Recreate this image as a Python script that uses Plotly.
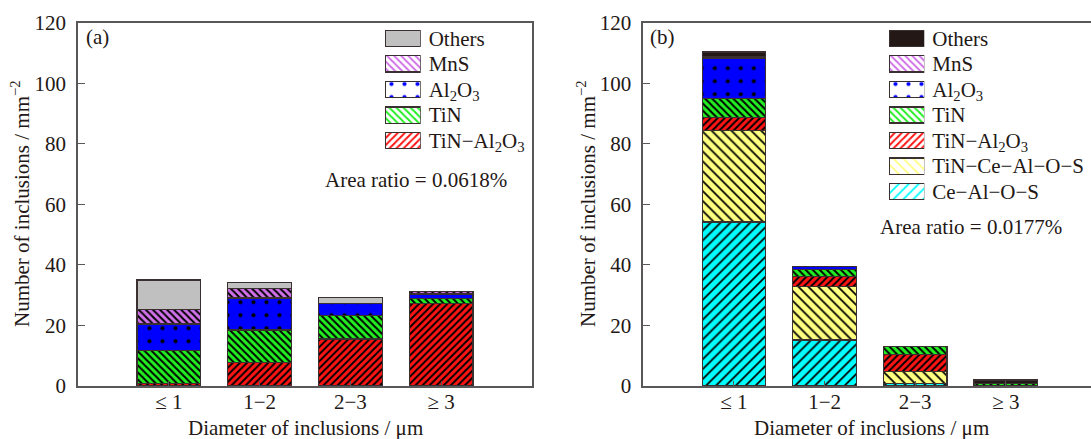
import plotly.graph_objects as go

# ---------------- data ----------------
categories = ["≤ 1", "1−2", "2−3", "≥ 3"]

# panel (a)
a_tin_al2o3 = [0.9, 7.8, 15.5, 27.3]
a_tin = [10.75, 10.7, 7.8, 1.7]
a_al2o3 = [8.85, 10.6, 4.0, 1.4]
a_mns = [4.8, 3.0, 0.0, 0.85]
a_others = [9.7, 2.0, 2.0, 0.0]

# panel (b)
b_ce_al_o_s = [54.2, 15.2, 0.9, 0.0]
b_tin_ce_al_o_s = [30.3, 17.6, 3.8, 0.0]
b_tin_al2o3 = [4.2, 3.3, 5.8, 0.0]
b_tin = [6.3, 2.4, 2.5, 0.9]
b_al2o3 = [13.2, 0.9, 0.0, 0.0]
b_mns = [0.5, 0.0, 0.0, 0.0]
b_others = [1.6, 0.0, 0.0, 1.1]

area_a = "Area ratio = 0.0618%"
area_b = "Area ratio = 0.0177%"

# ---------------- styles ----------------
FONT = "Liberation Serif, Times New Roman, serif"
TXT = "#231815"
AX = "#595757"
EDGE = "#3a3030"
FG = "#000000"

styles = {
    "Others_a": dict(color="#c0c0c0", shape="", size=8, sol=0.3),
    "Others_b": dict(color="#231815", shape="", size=8, sol=0.3),
    "MnS": dict(color="#d070e8", shape="\\", size=5, sol=0.4),
    "Al2O3": dict(color="#0000ff", shape=".", size=13, sol=0.08),
    "TiN": dict(color="#22ee22", shape="\\", size=5, sol=0.4),
    "TiN-Al2O3": dict(color="#ff1414", shape="/", size=5, sol=0.4),
    "TiN-Ce": dict(color="#ffff80", shape="\\", size=7, sol=0.25),
    "Ce": dict(color="#00ffff", shape="/", size=7, sol=0.25),
}

labels = {
    "Others_a": "Others", "Others_b": "Others", "MnS": "MnS",
    "Al2O3": "Al<sub>2</sub>O<sub>3</sub>", "TiN": "TiN",
    "TiN-Al2O3": "TiN−Al<sub>2</sub>O<sub>3</sub>",
    "TiN-Ce": "TiN−Ce−Al−O−S", "Ce": "Ce−Al−O−S",
}


def bar(key, vals, xa, ya):
    s = styles[key]
    return go.Bar(
        x=categories, y=vals, xaxis=xa, yaxis=ya, width=0.7,
        marker=dict(color=s["color"], line=dict(color=EDGE, width=1.3),
                    pattern=dict(shape=s["shape"], fgcolor=FG, bgcolor=s["color"],
                                 size=s["size"], solidity=s["sol"], fillmode="replace")),
        showlegend=False, hoverinfo="skip",
    )


fig = go.Figure()
for key, vals in [("TiN-Al2O3", a_tin_al2o3), ("TiN", a_tin), ("Al2O3", a_al2o3),
                  ("MnS", a_mns), ("Others_a", a_others)]:
    fig.add_trace(bar(key, vals, "x", "y"))
for key, vals in [("Ce", b_ce_al_o_s), ("TiN-Ce", b_tin_ce_al_o_s), ("TiN-Al2O3", b_tin_al2o3),
                  ("TiN", b_tin), ("Al2O3", b_al2o3), ("MnS", b_mns), ("Others_b", b_others)]:
    fig.add_trace(bar(key, vals, "x2", "y2"))

# custom legends (swatches drawn on hidden axes)
legend_a = ["Others_a", "MnS", "Al2O3", "TiN", "TiN-Al2O3"]
legend_b = ["Others_b", "MnS", "Al2O3", "TiN", "TiN-Al2O3", "TiN-Ce", "Ce"]


def legend_trace(keys, xa, ya):
    return go.Bar(
        orientation="h", y=[labels[k] for k in keys], x=[1] * len(keys),
        xaxis=xa, yaxis=ya, width=0.63,
        marker=dict(color=[styles[k]["color"] for k in keys],
                    line=dict(color=EDGE, width=1.3),
                    pattern=dict(shape=[styles[k]["shape"] for k in keys], fgcolor=FG,
                                 bgcolor=[styles[k]["color"] for k in keys],
                                 size=[styles[k]["size"] for k in keys],
                                 solidity=[styles[k]["sol"] for k in keys], fillmode="replace")),
        showlegend=False, hoverinfo="skip",
    )


fig.add_trace(legend_trace(legend_a, "x3", "y3"))
fig.add_trace(legend_trace(legend_b, "x4", "y4"))

W, H = 1091, 439
ydom = [(H - 386) / H, (H - 22.7) / H]
FS = 21
tickfont = dict(family=FONT, size=FS, color=TXT)

common_x = dict(type="category", showline=True, linecolor=AX, linewidth=1.5, mirror=True,
                ticks="inside", ticklen=5, tickcolor=AX, tickwidth=1.2, showgrid=False,
                tickfont=tickfont, range=[-1, 4], ticklabelstandoff=-4, automargin=False)
common_y = dict(range=[0, 120], dtick=20, showline=True, linecolor=AX, linewidth=1.5,
                ticks="inside", ticklen=7, tickcolor=AX, tickwidth=1.2, showgrid=False,
                zeroline=False, tickfont=tickfont, ticklabelstandoff=6, automargin=False)
leg_x = dict(range=[0, 1], visible=False, fixedrange=True, automargin=False)
leg_y = dict(side="right", type="category", autorange="reversed", showline=False,
             showgrid=False, zeroline=False, ticks="", tickfont=tickfont,
             ticklabelstandoff=7, automargin=False)

fig.update_layout(
    template="none",
    width=W, height=H, margin=dict(l=0, r=0, t=0, b=0, autoexpand=False),
    paper_bgcolor="white", plot_bgcolor="white", barmode="stack",
    xaxis=dict(common_x, domain=[78 / W, 532 / W], anchor="y"),
    yaxis=dict(common_y, domain=ydom, anchor="x", mirror=True),
    xaxis2=dict(common_x, domain=[643.3 / W, 1.0], anchor="y2", range=[-1, 3.94]),
    yaxis2=dict(common_y, domain=ydom, anchor="x2", mirror=False),
    xaxis3=dict(leg_x, domain=[385 / W, 420.7 / W], anchor="y3"),
    yaxis3=dict(leg_y, domain=[(H - 153.5) / H, (H - 25.5) / H], anchor="x3"),
    xaxis4=dict(leg_x, domain=[889 / W, 924.3 / W], anchor="y4"),
    yaxis4=dict(leg_y, domain=[(H - 204.5) / H, (H - 25.5) / H], anchor="x4"),
)

ann_font = dict(family=FONT, size=FS, color=TXT)


def px_ann(text, x, y, **kw):
    fig.add_annotation(text=text, x=x / W, y=1 - y / H, xref="paper", yref="paper",
                       xanchor="center", yanchor="middle",
                       showarrow=False, font=ann_font, **kw)


px_ann("(a)", 97, 37)
px_ann("(b)", 662, 37)
px_ann(area_a, 416, 180)
px_ann(area_b, 971, 227)
px_ann("Diameter of inclusions / μm", 305, 428)
px_ann("Diameter of inclusions / μm", 871, 428)
px_ann("Number of inclusions / mm<sup>−2</sup>", 20, 204, textangle=-90)
px_ann("Number of inclusions / mm<sup>−2</sup>", 586, 204, textangle=-90)

fig.write_html("out.html")
